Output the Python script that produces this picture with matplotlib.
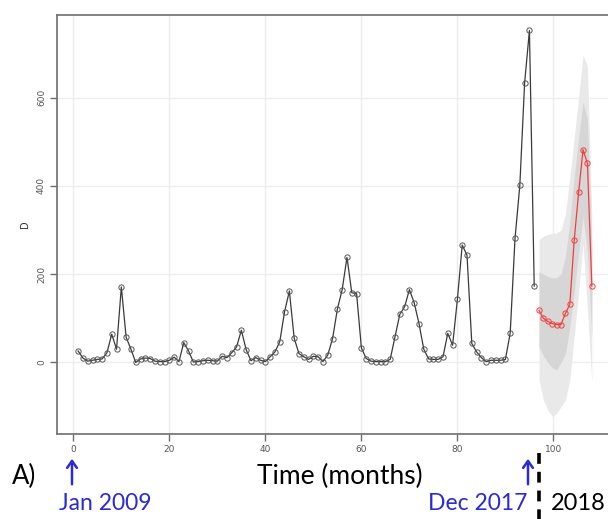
import numpy as np
import matplotlib
matplotlib.use("Agg")
import matplotlib.pyplot as plt

# Monthly observed series (months 1..96)
observed = [26, 10, 3, 5, 7, 8, 22, 64, 30, 171,
            57, 30, 0, 8, 10, 9, 3, 2, 2, 5,
            12, 2, 45, 26, 1, 2, 4, 5, 4, 3,
            14, 11, 22, 35, 73, 29, 4, 11, 5, 2,
            13, 24, 47, 115, 162, 55, 20, 13, 7, 14,
            13, 2, 17, 54, 121, 165, 238, 158, 156, 33,
            9, 3, 2, 2, 2, 7, 58, 109, 126, 165,
            135, 88, 30, 8, 7, 7, 13, 66, 39, 143,
            266, 243, 43, 24, 11, 2, 5, 5, 5, 7,
            67, 281, 401, 633, 752, 173]
obs_months = np.arange(1, len(observed) + 1)

# Forecast for the following year with prediction intervals
forecast = [118, 100, 93, 88, 86, 86, 111, 132, 278, 385, 482, 451, 173]
inner_hi = [205, 200, 195, 192, 192, 200, 240, 320, 420, 510, 590, 550, 260]
inner_lo = [35, 15, 0, -12, -17, 0, 20, 80, 160, 250, 330, 250, 60]
outer_hi = [278, 286, 290, 292, 294, 300, 337, 420, 510, 600, 696, 670, 330]
outer_lo = [-40, -85, -108, -122, -115, -100, -85, -40, 60, 160, 270, 120, -45]
fc_months = np.linspace(97, 108, len(forecast))

x_ticks = [0, 20, 40, 60, 80, 100]
y_ticks = [0, 200, 400, 600]

W, H = 608, 519
fig = plt.figure(figsize=(W / 100, H / 100), dpi=100)


def fx(px):
    return px / W


def fy(py):
    return 1 - py / H


ax = fig.add_axes([fx(57), fy(434), fx(612) - fx(57), fy(15) - fy(434)])
ax.set_xlim(-3.4, 112.2)
ax.set_ylim(-162, 787)

ax.fill_between(fc_months, outer_lo, outer_hi, color="#e9e9e9", lw=0, zorder=1)
ax.fill_between(fc_months, inner_lo, inner_hi, color="#d6d6d6", lw=0, zorder=2)

ax.plot(obs_months, observed, color="#3a3a3a", lw=0.9, marker="o", ms=3.8,
        mfc="none", mec="#555555", mew=0.7, zorder=3)
ax.plot(fc_months, forecast, color="#f53c3c", lw=0.9, marker="o", ms=3.8,
        mfc="none", mec="#f53c3c", mew=0.7, zorder=4)

ax.set_xticks(x_ticks)
ax.set_yticks(y_ticks)
ax.grid(True, color="#ededed", lw=1.0, zorder=0)
ax.set_axisbelow(True)
for side in ("left", "bottom", "top", "right"):
    ax.spines[side].set_color("#6e6e6e")
    ax.spines[side].set_linewidth(1.2)
ax.tick_params(direction="out", length=5, width=1, color="#6e6e6e",
               labelsize=6.5, labelcolor="#555555", pad=3)
for lab in ax.get_yticklabels():
    lab.set_rotation(90)
    lab.set_va("center")
ax.set_ylabel("D", fontsize=7, color="#333333", labelpad=5)

font = "Lato"
blue = "#2a2ad6"
fig.text(fx(24), fy(476), "A)", fontsize=18.5, family=font, ha="center", va="center")
fig.text(fx(340), fy(476), "Time (months)", fontsize=19, family=font,
         ha="center", va="center")
fig.text(fx(105), fy(503), "Jan 2009", fontsize=16.5, family=font, color=blue,
         ha="center", va="center")
fig.text(fx(478), fy(503), "Dec 2017", fontsize=16.5, family=font, color=blue,
         ha="center", va="center")
fig.text(fx(578), fy(503), "2018", fontsize=17, family=font, color="black",
         ha="center", va="center")

for xa in (72, 528):
    fig.add_artist(matplotlib.patches.FancyArrowPatch(
        (fx(xa), fy(487)), (fx(xa), fy(456)), transform=fig.transFigure,
        arrowstyle="->,head_length=5,head_width=3.5", color=blue, lw=1.8,
        mutation_scale=1))

fig.add_artist(matplotlib.lines.Line2D([fx(539), fx(539)], [fy(453), fy(519)],
                                       transform=fig.transFigure, color="black",
                                       lw=2.6, linestyle=(0, (3, 2.2))))

fig.savefig("out.png", dpi=100)
